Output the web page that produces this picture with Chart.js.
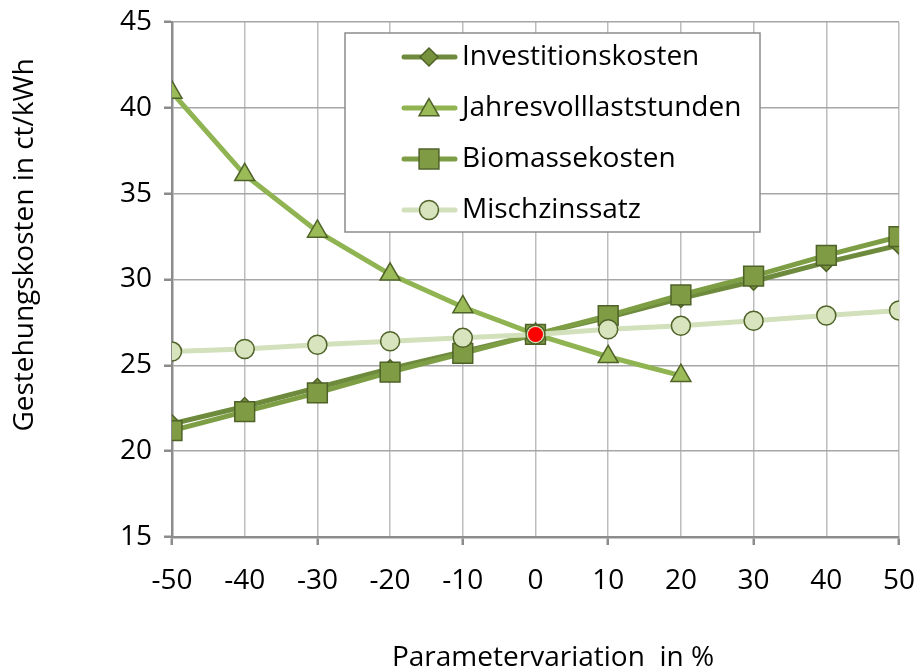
<!DOCTYPE html>
<html>
<head>
<meta charset="utf-8">
<script src="https://cdn.jsdelivr.net/npm/chart.js@4.4.1/dist/chart.umd.min.js"></script>
<style>
html,body{margin:0;padding:0;background:#fff;}
#wrap{width:919px;height:671px;position:relative;}
</style>
</head>
<body>
<div id="wrap"><canvas id="c" width="919" height="671"></canvas></div>
<script>
const xValues = [-50, -40, -30, -20, -10, 0, 10, 20, 30, 40, 50];
const investitionskosten = [21.6, 22.6, 23.7, 24.8, 25.8, 26.8, 27.8, 28.9, 29.9, 31.0, 32.0];
const jahresvolllaststunden = [40.9, 36.1, 32.8, 30.3, 28.4, 26.8, 25.5, 24.4, null, null, null];
const biomassekosten = [21.2, 22.3, 23.4, 24.6, 25.7, 26.8, 27.9, 29.1, 30.2, 31.4, 32.5];
const mischzinssatz = [25.8, 25.95, 26.2, 26.4, 26.6, 26.8, 27.1, 27.3, 27.6, 27.9, 28.2];
const basePoint = [{x: 0, y: 26.8}];
const seriesNames = ['Investitionskosten', 'Jahresvolllaststunden', 'Biomassekosten', 'Mischzinssatz'];
const yTicks = [15, 20, 25, 30, 35, 40, 45];
const xTitle = 'Parametervariation  in %';
const yTitle = 'Gestehungskosten in ct/kWh';

const FONT = '"Open Sans", Lato, sans-serif';
const FS = 28;
const toXY = arr => arr.map((v, i) => ({x: xValues[i], y: v}));

const PLOT_LEFT = 172, PLOT_TOP = 22, PLOT_RIGHT = 899, PLOT_BOTTOM = 537;

const legendPlugin = {
  id: 'boxLegend',
  afterDraw(chart) {
    const ctx = chart.ctx;
    ctx.save();
    // axis titles
    ctx.fillStyle = '#000000';
    ctx.font = FS + 'px ' + FONT;
    ctx.textAlign = 'center';
    ctx.textBaseline = 'middle';
    ctx.fillText(xTitle, 553, 658);
    ctx.save();
    ctx.translate(25, 245);
    ctx.rotate(-Math.PI / 2);
    ctx.fillText(yTitle, 0, 0);
    ctx.restore();
    // legend box
    ctx.fillStyle = '#ffffff';
    ctx.strokeStyle = '#8c8c8c';
    ctx.lineWidth = 1.5;
    ctx.fillRect(345, 33, 415, 199);
    ctx.strokeRect(345, 33, 415, 199);
    const rows = [57, 108, 159, 210];
    for (let i = 0; i < 4; i++) {
      const ds = chart.data.datasets[i];
      const y = rows[i];
      ctx.strokeStyle = ds.borderColor;
      ctx.lineWidth = ds.borderWidth;
      ctx.lineCap = 'round';
      ctx.beginPath();
      ctx.moveTo(404, y);
      ctx.lineTo(455, y);
      ctx.stroke();
      ctx.fillStyle = ds.pointBackgroundColor;
      ctx.strokeStyle = ds.pointBorderColor;
      ctx.lineWidth = ds.pointBorderWidth;
      Chart.helpers.drawPoint(ctx, {pointStyle: ds.pointStyle, rotation: 0, radius: ds.pointRadius, borderWidth: ds.pointBorderWidth}, 429, y + (ds.pointStyle === 'triangle' ? 2 : 0));
      ctx.fillStyle = '#000000';
      ctx.font = FS + 'px ' + FONT;
      ctx.textAlign = 'left';
      ctx.textBaseline = 'middle';
      ctx.fillText(ds.label, 462, y);
    }
    ctx.restore();
  }
};

const common = {showLine: true, borderWidth: 5, pointBorderColor: '#4f6228', pointBorderWidth: 1.5, tension: 0, spanGaps: false};

new Chart(document.getElementById('c'), {
  type: 'scatter',
  data: {
    datasets: [
      Object.assign({}, common, {label: seriesNames[0], data: toXY(investitionskosten), borderColor: '#6e8b3d', pointBackgroundColor: '#76923c', pointStyle: 'rectRot', pointRadius: 9, order: 4}),
      Object.assign({}, common, {label: seriesNames[1], data: toXY(jahresvolllaststunden), borderColor: '#8fb451', pointBackgroundColor: '#9bbb59', pointStyle: 'triangle', pointRadius: 11.5, order: 3}),
      Object.assign({}, common, {label: seriesNames[2], data: toXY(biomassekosten), borderColor: '#7d9e44', pointBackgroundColor: '#7f9c45', pointStyle: 'rect', pointRadius: 14, order: 2}),
      Object.assign({}, common, {label: seriesNames[3], data: toXY(mischzinssatz), borderColor: '#d2e0bb', pointBackgroundColor: '#d7e4bd', pointStyle: 'circle', pointRadius: 9.5, order: 1}),
      {label: 'Basis', data: basePoint, showLine: false, pointRadius: 7.5, pointBackgroundColor: '#ff0000', pointBorderColor: '#ff0000', pointBorderWidth: 0, order: 0}
    ]
  },
  options: {
    responsive: false,
    animation: false,
    layout: {padding: {top: PLOT_TOP, right: 919 - PLOT_RIGHT, left: 0, bottom: 0}},
    plugins: {legend: {display: false}, tooltip: {enabled: false}},
    scales: {
      x: {
        type: 'linear', min: -50, max: 50,
        afterBuildTicks: s => { s.ticks = xValues.map(v => ({value: v})); },
        afterFit: s => { s.height = 671 - PLOT_BOTTOM; s.paddingRight = 0; s.paddingLeft = 0; },
        grid: {
          color: '#bdbdbd', lineWidth: 1.5, drawTicks: true, tickLength: 8,
          tickColor: c => (c.tick && [-50, -30, -10, 10, 30, 50].includes(c.tick.value)) ? '#8c8c8c' : 'rgba(0,0,0,0)',
          tickWidth: 2.5
        },
        border: {color: '#8c8c8c', width: 2.5},
        ticks: {font: {family: FONT, size: FS}, color: '#000', padding: 19, maxRotation: 0, autoSkip: false, callback: v => String(v)},
        title: {display: false}
      },
      y: {
        type: 'linear', min: 15, max: 45,
        afterBuildTicks: s => { s.ticks = yTicks.map(v => ({value: v})); },
        afterFit: s => { s.width = PLOT_LEFT; s.paddingTop = 0; s.paddingBottom = 0; },
        grid: {color: '#a6a6a6', lineWidth: 1.5, tickLength: 8, tickColor: '#8c8c8c', tickWidth: 2.5},
        border: {color: '#8c8c8c', width: 2.5},
        ticks: {font: {family: FONT, size: FS}, color: '#000', padding: 12, callback: v => String(v)},
        title: {display: false}
      }
    }
  },
  plugins: [legendPlugin]
});
</script>
</body>
</html>
